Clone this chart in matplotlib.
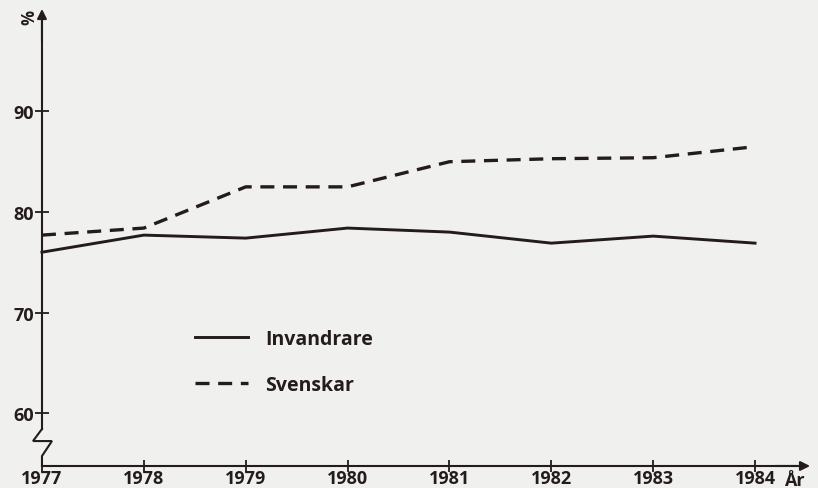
import matplotlib
matplotlib.use("Agg")
import matplotlib.pyplot as plt

years = [1977, 1978, 1979, 1980, 1981, 1982, 1983, 1984]
invandrare = [76.0, 77.7, 77.4, 78.4, 78.0, 76.9, 77.6, 76.9]
svenskar = [77.7, 78.4, 82.5, 82.5, 85.0, 85.3, 85.4, 86.5]
yticks = [60, 70, 80, 90]

ink = '#231b1d'
paper = '#f0f0ee'
font = 'Open Sans'

fig = plt.figure(figsize=(8.18, 4.89), dpi=100)
fig.patch.set_facecolor(paper)
ax = fig.add_axes([0, 0, 1, 1])
ax.set_facecolor(paper)

# axis scale chosen so the frame lands where the scan has it
ax.set_xlim(1976.588, 1984.618)
ax.set_ylim(52.54, 101.19)
x0 = 1977
ybase = 54.73

ax.plot(years, invandrare, color=ink, lw=2.1, solid_joinstyle='round',
        label='Invandrare')
ax.plot(years, svenskar, color=ink, lw=2.4, dashes=(4.2, 2.6),
        label='Svenskar')

# axes: spines moved into the data area
for s in ['top', 'right']:
    ax.spines[s].set_visible(False)
ax.spines['left'].set_position(('data', x0))
ax.spines['bottom'].set_position(('data', ybase))
ax.spines['left'].set_bounds(58.41, 99.5)
ax.spines['bottom'].set_bounds(x0, 1984.4)
for s in ['left', 'bottom']:
    ax.spines[s].set_color(ink)
    ax.spines[s].set_linewidth(1.5)

# arrow heads
ax.annotate('', xy=(x0, 100.2), xytext=(x0, 97.0),
            arrowprops=dict(arrowstyle='-|>', color=ink, lw=1.5,
                            mutation_scale=14, shrinkA=0, shrinkB=0))
ax.annotate('', xy=(1984.54, ybase), xytext=(1984.2, ybase),
            arrowprops=dict(arrowstyle='-|>', color=ink, lw=1.5,
                            mutation_scale=14, shrinkA=0, shrinkB=0))

# axis break zigzag
ax.plot([x0, 1976.912, 1977.098, x0, x0],
        [58.41, 57.21, 57.21, 55.72, ybase],
        color=ink, lw=1.5, solid_joinstyle='miter')

ax.set_xticks(years)
ax.set_xticklabels([str(y) for y in years])
ax.set_yticks(yticks)
ax.set_yticklabels([str(v) for v in yticks])
ax.tick_params(axis='x', direction='inout', length=9, width=1.3,
               color=ink, pad=-2.5)
ax.tick_params(axis='y', direction='inout', length=10, width=1.3,
               color=ink, pad=1)
for lab in ax.get_xticklabels() + ax.get_yticklabels():
    lab.set_fontfamily(font)
    lab.set_fontweight('bold')
    lab.set_fontsize(13)
    lab.set_color(ink)

ax.text(1976.83, 99.5, '%', rotation=270, ha='center', va='center',
        fontsize=12, fontweight='bold', family=font, color=ink)
ax.text(1984.39, 53.3, 'År', ha='center', va='center', fontsize=13,
        family=font, fontweight='bold', color=ink)

leg = ax.legend(loc='upper left', bbox_to_anchor=(195 / 818, 1 - 330 / 489),
                frameon=False, handlelength=2.75, handletextpad=0.85,
                labelspacing=1.35, borderpad=0, borderaxespad=0,
                prop={'family': font, 'weight': 'bold', 'size': 14})
for t in leg.get_texts():
    t.set_color(ink)

fig.savefig('out.png', dpi=100, facecolor=paper)
